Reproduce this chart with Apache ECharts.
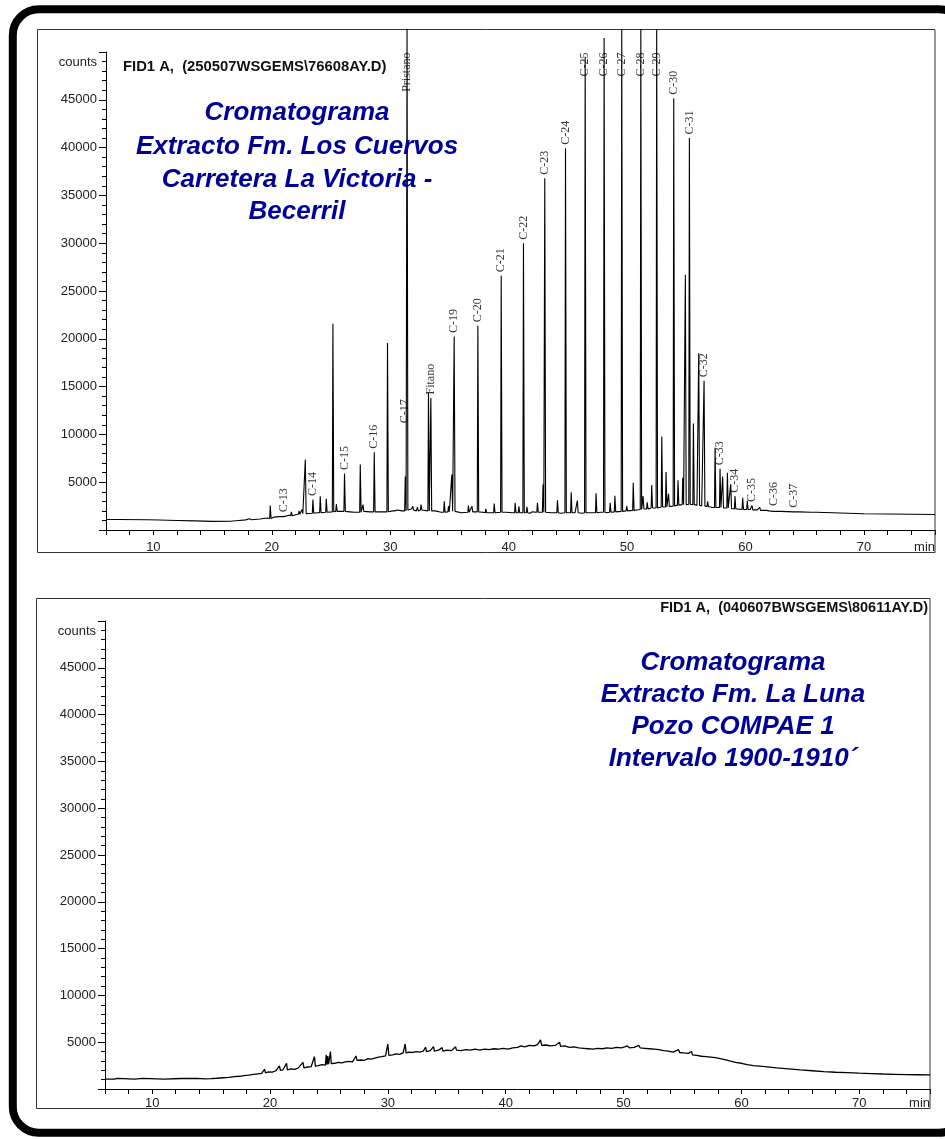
<!DOCTYPE html>
<html><head><meta charset="utf-8">
<script src="https://cdn.jsdelivr.net/npm/echarts@6/dist/echarts.min.js"></script>
<style>html,body{margin:0;padding:0;background:#fff}#c{width:945px;height:1139px}</style>
</head><body><div id="c"></div>
<script>
// ---------- DATA ----------
// x axis: retention time (min); y axis: counts
const xLabelTicks = [10, 20, 30, 40, 50, 60, 70];
const yLabelTicks = [5000, 10000, 15000, 20000, 25000, 30000, 35000, 40000, 45000];

// Top chromatogram (Fm. Los Cuervos) - baseline points [min, counts]
const topBaseline = [
  [6.0,1100],[7.0,1100],[9.5,1080],[10.5,1050],[12.0,1000],[13.5,950],[15.0,900],[16.5,920],
  [17.2,1000],[17.8,1060],[18.1,1180],[18.3,1070],[19.0,1150],[19.6,1250],[20.2,1350],[20.6,1400],
  [21.2,1450],[21.4,1550],[22.0,1600],[22.4,1700],[23.0,1750],[23.8,1800],[24.8,1900],[25.6,1950],
  [26.6,1900],[27.0,1850],[27.8,2000],[28.3,1900],[29.2,1900],[30.2,2000],[30.6,2100],[31.0,2000],
  [31.8,2200],[32.2,2000],[32.8,2150],[33.8,2000],[34.3,1850],[35.6,2000],[36.0,1800],[36.8,1900],
  [37.8,1850],[38.4,1800],[39.8,1850],[40.3,1800],[41.8,1750],[42.0,1900],[43.6,1800],[44.4,1750],
  [45.6,1800],[46.2,1750],[46.9,1800],[47.8,1850],[48.3,1800],[49.2,1950],[50.2,2000],[50.8,2100],
  [51.5,2200],[52.3,2300],[53.05,2400],[53.7,2500],[54.5,2650],[55.02,2700],[55.9,2600],[56.3,2500],
  [56.95,2400],[57.2,2350],[58.2,2300],[59.4,2200],[60.4,2150],[61.0,2100],[61.8,2050],[63.0,1950],
  [64.5,1900],[66.0,1850],[68.0,1780],[70.0,1700],[72.0,1680],[74.0,1650],[76.0,1620]
];
// Top chromatogram peaks [min, apex counts, local baseline counts]
// (apex 52400 = peak runs off the top of the frame)
const topPeaks = [
  [19.87,2560,1200],[21.0,1500,1400],[21.65,1900,1500],[22.3,2000,1650],[22.55,2150,1700],
  [22.83,7370,1700],[23.47,3190,1750],[24.09,3540,1800],[24.6,3260,1850],[25.16,21580,1900],
  [25.45,2700,1950],[26.14,5900,1950],[27.47,6840,1850],[27.7,2660,1950],[28.65,8130,1900],
  [29.77,19560,1900],[30.3,2200,2000],[31.27,5600,2000],[31.42,52400,2100],[31.9,2500,2100],
  [32.3,2400,2000],[32.6,2660,2100],[33.23,14340,2000],[33.43,13810,2000],[34.56,3010,1850],
  [34.92,2490,1900],[35.2,5800,1950],[35.40,20250,1950],[36.6,2560,1850],[36.9,2500,1900],
  [37.40,21370,1900],[38.07,2210,1800],[38.78,2770,1800],[39.37,26600,1850],[40.55,2840,1800],
  [40.86,2490,1800],[41.25,30000,1800],[41.54,2420,1800],[42.43,2840,1850],[42.9,4750,1850],
  [43.05,36800,1850],[44.12,3120,1800],[44.8,39940,1800],[45.28,3950,1800],[45.8,3080,1800],
  [46.46,49500,1800],[47.38,3850,1800],[48.06,51470,1850],[48.57,2840,1850],[48.97,3570,1900],
  [49.55,52400,1950],[49.97,2490,2000],[50.52,4950,2050],[51.16,52400,2150],[51.35,3550,2200],
  [51.7,2900,2200],[52.08,4700,2300],[52.5,52400,2300],[52.93,9770,2400],[53.29,6070,2400],
  [53.5,3800,2450],[53.94,45160,2500],[54.3,5200,2600],[54.7,5470,2650],[54.92,26700,2650],
  [55.26,41000,2700],[55.6,11130,2650],[56.05,18500,2600],[56.5,15600,2500],[56.8,3000,2450],
  [57.43,8590,2350],[57.85,6400,2350],[58.07,5590,2300],[58.47,5980,2300],[58.75,4790,2250],
  [59.11,3540,2200],[59.76,3380,2150],[60.15,3060,2150],[60.55,2560,2100],[61.2,2380,2050],
  [61.9,2200,2000],[62.43,2150,1950],[64.1,1960,1900],[65.6,1900,1850]
];
// Peak annotations: name, time (min), level where the label sits (counts)
const peakLabelNames  = ['C-13','C-14','C-15','C-16','C-17','Pristano','Fitano','C-19','C-20','C-21','C-22','C-23','C-24','C-25','C-26','C-27','C-28','C-29','C-30','C-31','C-32','C-33','C-34','C-35','C-36','C-37'];
const peakLabelTimes  = [21.0,23.47,26.14,28.65,31.27,31.42,33.43,35.40,37.40,39.37,41.25,43.05,44.8,46.46,48.06,49.55,51.16,52.5,53.94,55.26,56.5,57.85,59.11,60.55,62.43,64.1];
const peakLabelLevels = [1500,3190,5900,8130,10800,52400,13810,20250,21370,26600,30000,36800,39940,49500,51470,52400,52400,52400,45160,41000,15600,6400,3540,2560,2150,1960];

// Bottom chromatogram (Fm. La Luna) [min, counts]
const bottomTrace = [
  [6,1050],[6.8,1050],[7.05,1140],[7.15,1050],[8.5,1050],[9.2,1130],[9.3,1050],[11,1050],[12.5,1120],[12.6,1060],
  [13.8,1130],[13.9,1070],[14.5,1090],[15,1110],[15.5,1150],[16,1200],[16.5,1250],[17,1320],[17.4,1360],[17.8,1420],
  [18.2,1480],[18.6,1560],[19,1620],[19.3,1660],[19.53,2110],[19.62,1720],[19.9,1840],[20.2,1800],[20.5,1950],[20.8,2470],
  [20.88,1980],[21.1,2050],[21.4,2750],[21.48,2050],[21.8,2150],[22.1,2100],[22.4,2250],[22.8,2840],[22.88,2250],[23.2,2350],
  [23.5,2400],[23.77,3460],[23.85,2450],[24.1,2500],[24.4,2600],[24.7,2550],[24.77,3640],[24.84,2600],[24.9,3530],[24.97,2650],
  [25.13,3990],[25.2,2700],[25.5,2750],[25.8,2850],[26.1,2800],[26.4,2900],[26.7,2950],[27.0,2900],[27.3,3530],[27.38,3050],
  [27.7,3100],[28.0,3050],[28.3,3250],[28.6,3200],[28.9,3300],[29.2,3400],[29.5,3450],[29.8,3550],[30.0,4810],[30.08,3600],
  [30.4,3650],[30.7,3750],[31.0,3700],[31.3,3850],[31.47,4810],[31.55,3850],[31.8,3950],[32.1,3900],[32.4,4000],[32.7,3950],
  [33.0,4050],[33.2,4460],[33.28,4000],[33.6,4100],[33.87,4520],[33.95,4050],[34.3,4150],[34.6,4420],[34.68,4050],[35.0,4150],
  [35.4,4100],[35.74,4520],[35.82,4150],[36.2,4100],[36.6,4200],[37.0,4150],[37.4,4250],[37.8,4150],[38.2,4250],[38.6,4200],
  [39.0,4300],[39.4,4250],[39.8,4350],[40.2,4250],[40.6,4400],[41.0,4450],[41.3,4600],[41.6,4500],[42.0,4650],[42.4,4600],
  [42.7,4750],[42.95,5240],[43.05,4650],[43.4,4700],[43.8,4600],[44.2,4650],[44.57,5000],[44.65,4550],[45.0,4600],[45.4,4450],
  [45.8,4500],[46.2,4400],[46.6,4350],[47.0,4300],[47.4,4250],[47.8,4350],[48.2,4300],[48.6,4400],[49.0,4350],[49.4,4450],
  [49.8,4400],[50.1,4500],[50.3,4600],[50.5,4400],[50.9,4450],[51.3,4650],[51.4,4400],[51.8,4350],[52.2,4300],[52.6,4250],
  [53.0,4200],[53.4,4100],[53.8,4050],[54.2,3950],[54.67,4200],[54.75,3900],[55.1,3850],[55.5,3800],[55.77,4000],[55.85,3650],
  [56.2,3600],[56.6,3500],[57.0,3450],[57.4,3400],[57.8,3350],[58.2,3250],[58.6,3150],[59.0,3000],[59.5,2850],[60.0,2750],
  [60.5,2600],[61.0,2500],[61.5,2450],[62.0,2390],[63.0,2250],[64.0,2150],[65.0,2040],[66.0,1950],[67.0,1850],[68.0,1790],
  [69.0,1740],[70.0,1690],[71.0,1650],[72.0,1600],[73.0,1570],[74.0,1540],[75.0,1520],[76.0,1500]
];

// ---------- BUILD ----------
const SANS = '"Liberation Sans", Arial, sans-serif';
const SERIF = '"Liberation Serif", "Times New Roman", serif';
const PEAK_HALF_L = 0.05, PEAK_HALF_R = 0.07; // spike shape (drawing style)

const topTrace = topBaseline.slice();
topPeaks.forEach(p => {
  topTrace.push([p[0] - PEAK_HALF_L, p[2]], [p[0], p[1]], [p[0] + PEAK_HALF_R, p[2]]);
});
topTrace.sort((a, b) => a[0] - b[0]);

const TOP_GRID = {left: 106, top: 52, width: 829, height: 478};
const BOT_GRID = {left: 105, top: 621, width: 825, height: 468};
const Y_MAX = 50000;

const ctx = document.createElement('canvas').getContext('2d');
ctx.font = '12px ' + SERIF;
const labelData = peakLabelNames.map((n, i) => {
  const w = ctx.measureText(n).width + 3;
  const spanVal = w * Y_MAX / TOP_GRID.height;
  const lvl = peakLabelLevels[i];
  if (lvl + spanVal > Y_MAX) {
    return {name: n, value: [peakLabelTimes[i], Y_MAX],
            label: {position: 'bottom', distance: 0, align: 'right'}};
  }
  return {name: n, value: [peakLabelTimes[i], lvl]};
});

function xAxisCfg(gridIndex, margin) {
  return {
    type: 'value', gridIndex, min: 6, max: 76, interval: 2,
    name: 'min', nameLocation: 'end', nameGap: 0,
    nameTextStyle: {fontFamily: SANS, fontSize: 13, color: '#222', align: 'right', verticalAlign: 'top', padding: [margin, 0, 0, 0]},
    axisLine: {lineStyle: {color: '#000', width: 1}},
    axisTick: {length: 5, lineStyle: {color: '#000'}},
    axisLabel: {margin, fontFamily: SANS, fontSize: 13, color: '#222',
      formatter: v => xLabelTicks.indexOf(v) >= 0 ? String(v) : ''},
    splitLine: {show: false}
  };
}
function yAxisCfg(gridIndex) {
  return {
    type: 'value', gridIndex, min: 0, max: Y_MAX, interval: 5000,
    name: 'counts', nameLocation: 'end', nameGap: -10,
    nameTextStyle: {fontFamily: SANS, fontSize: 13, color: '#222', align: 'right', verticalAlign: 'middle', padding: [0, 9, 0, 0]},
    axisLine: {show: true, lineStyle: {color: '#000', width: 1}},
    axisTick: {show: true, length: 7, lineStyle: {color: '#000'}},
    minorTick: {show: true, splitNumber: 5, length: 4, lineStyle: {color: '#000'}},
    axisLabel: {margin: 9, fontFamily: SANS, fontSize: 13, color: '#222',
      formatter: v => yLabelTicks.indexOf(v) >= 0 ? String(v) : ''},
    splitLine: {show: false}, minorSplitLine: {show: false}
  };
}

function txt(text, x, y, font, fill, align) {
  return {type: 'text', x, y, z: 10, silent: true,
    style: {text, font, fill, align: align, verticalAlign: 'middle', textAlign: align, textVerticalAlign: 'middle'}};
}
const TITLE_FONT = 'italic bold 26px ' + SANS;
const BLUE = '#000099';

const chart = echarts.init(document.getElementById('c'), null, {renderer: 'canvas'});
chart.setOption({
  animation: false,
  backgroundColor: '#fff',
  grid: [
    Object.assign({containLabel: false}, TOP_GRID),
    Object.assign({containLabel: false}, BOT_GRID)
  ],
  xAxis: [xAxisCfg(0, 11), xAxisCfg(1, 8)],
  yAxis: [yAxisCfg(0), yAxisCfg(1)],
  series: [
    {type: 'line', xAxisIndex: 0, yAxisIndex: 0, data: topTrace, showSymbol: false, symbol: 'none',
     clip: false, lineStyle: {color: '#000', width: 1.1}, z: 3},
    {type: 'scatter', xAxisIndex: 0, yAxisIndex: 0, data: labelData, symbolSize: 1,
     itemStyle: {color: 'rgba(0,0,0,0)'}, z: 4, clip: false,
     label: {show: true, position: 'top', distance: 3, rotate: 90, align: 'left', verticalAlign: 'middle',
       formatter: p => p.data.name, fontFamily: SERIF, fontSize: 12, color: '#000'}},
    {type: 'line', xAxisIndex: 1, yAxisIndex: 1, data: bottomTrace, showSymbol: false, symbol: 'none',
     lineStyle: {color: '#000', width: 1.3}, z: 3}
  ],
  graphic: [
    {type: 'rect', silent: true, z: 0, shape: {x: 12.8, y: 9.2, width: 952, height: 1123.6, r: 26},
     style: {fill: 'none', stroke: '#000', lineWidth: 8}},
    {type: 'rect', silent: true, z: 1, shape: {x: 37.5, y: 29.5, width: 897.5, height: 523},
     style: {fill: 'none', stroke: '#333', lineWidth: 1}},
    {type: 'rect', silent: true, z: 1, shape: {x: 36.5, y: 598.5, width: 893.5, height: 510},
     style: {fill: 'none', stroke: '#333', lineWidth: 1}},
    txt('FID1 A,  (250507WSGEMS\\76608AY.D)', 123, 67, 'bold 14.8px ' + SANS, '#111', 'left'),
    txt('FID1 A,  (040607BWSGEMS\\80611AY.D)', 928, 608, 'bold 14.5px ' + SANS, '#111', 'right'),
    txt('Cromatograma', 297, 113, TITLE_FONT, BLUE, 'center'),
    txt('Extracto Fm. Los Cuervos', 297, 146.5, TITLE_FONT, BLUE, 'center'),
    txt('Carretera La Victoria -', 297, 179.5, TITLE_FONT, BLUE, 'center'),
    txt('Becerril', 297, 212, TITLE_FONT, BLUE, 'center'),
    txt('Cromatograma', 733, 663, TITLE_FONT, BLUE, 'center'),
    txt('Extracto Fm. La Luna', 733, 695, TITLE_FONT, BLUE, 'center'),
    txt('Pozo COMPAE 1', 733, 727, TITLE_FONT, BLUE, 'center'),
    txt('Intervalo 1900-1910\u00b4', 733, 758.5, TITLE_FONT, BLUE, 'center')
  ]
});
</script>
</body></html>
